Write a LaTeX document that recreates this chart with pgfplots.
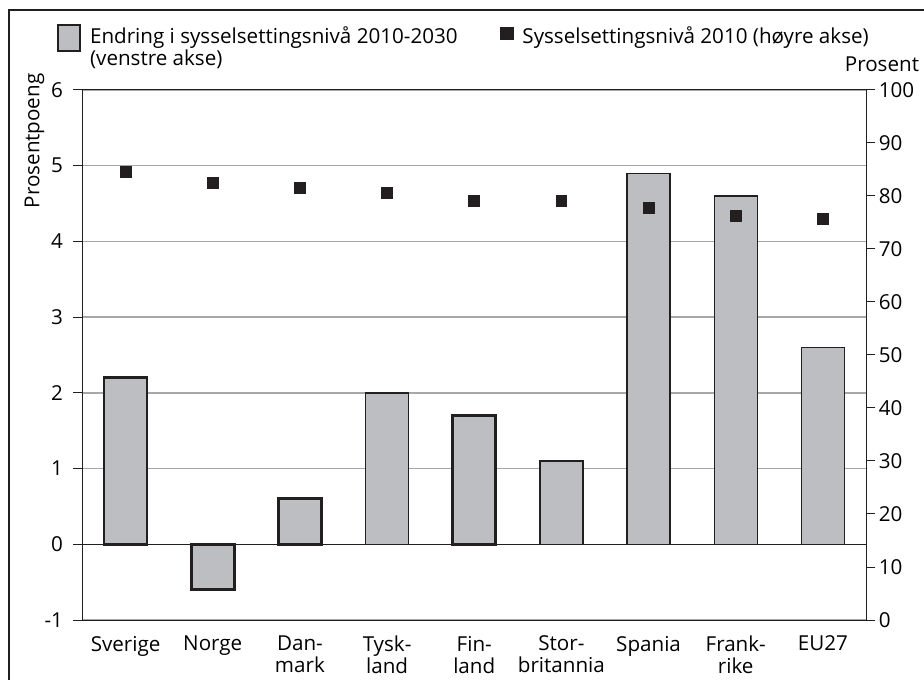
\documentclass[border=0pt]{standalone}
\usepackage{pgfplots}
\pgfplotsset{compat=1.18}
\usepackage{fontspec}
\setmainfont{Open Sans}
\definecolor{barfill}{HTML}{BDBEC2}
\definecolor{ink}{HTML}{231F20}
\definecolor{gridc}{HTML}{A7A7A9}

\begin{document}
\begin{tikzpicture}[font=\fontsize{10.3}{11}\selectfont]
\path[use as bounding box] (-41pt,-29.5pt) rectangle (421pt,310pt);
\draw[ink, line width=1.3pt] (-36.5pt,-31pt) -- (-36.5pt,305pt) -- (423pt,305pt);
\begin{axis}[
  at={(0pt,0pt)}, anchor=south west,
  scale only axis, width=392.25pt, height=265pt,
  xmin=-0.5, xmax=8.5, ymin=-1, ymax=6,
  ytick={-1,0,...,6},
  xtick={0,...,8},
  xticklabels={Sverige, Norge, Dan-\\mark, Tysk-\\land, Fin-\\land, Stor-\\britannia, Spania, Frank-\\rike, EU27},
  xticklabel style={align=center, font=\fontsize{10.3}{11}\selectfont},
  x tick style={draw=none},
  ytick pos=left,
  tick align=outside,
  major tick length=4.5pt,
  y tick style={ink, line width=0.5pt},
  yticklabel style={xshift=-1.5pt},
  axis line style={ink, line width=0.5pt},
  ymajorgrids, grid style={gridc, line width=0.75pt},
  extra y ticks={0}, extra y tick labels={},
  extra y tick style={grid style={ink, line width=0.75pt}},
  /pgf/number format/assume math mode=true,
  ylabel={Prosentpoeng},
  ylabel style={at={(axis description cs:-0.0605,0.904)}, anchor=center},
  legend columns=2,
  legend cell align=left,
  legend style={at={(axis description cs:-0.032,1.1245)}, anchor=north west,
    draw=none, fill=none, inner sep=0pt,
    nodes={align=left, inner sep=1pt},
    /tikz/every odd column/.append style={column sep=3.5pt},
    /tikz/every even column/.append style={column sep=20pt}},
]
\addplot[ybar, bar width=21.5pt, bar shift=0pt, fill=barfill, draw=ink, line width=1.4pt,
  legend image code/.code={\draw[ink, fill=barfill, line width=0.9pt] (0pt,-2pt) rectangle (11pt,11pt);}]
  coordinates {(0,2.2) (1,-0.6) (2,0.6) (4,1.7)};
\addlegendentry{Endring i sysselsettingsnivå 2010-2030\\(venstre akse)}
\addplot[ybar, bar width=21.5pt, bar shift=0pt, fill=barfill, draw=ink, line width=0.7pt, forget plot]
  coordinates {(3,2.0) (5,1.1) (6,4.9) (7,4.6) (8,2.6)};
\addlegendimage{legend image code/.code={\fill[ink] (0pt,4pt) rectangle (6.5pt,10pt);}}
\addlegendentry{Sysselsettingsnivå 2010 (høyre akse)\\\phantom{(}}
\end{axis}
\begin{axis}[
  at={(0pt,0pt)}, anchor=south west,
  scale only axis, width=392.25pt, height=265pt,
  xmin=-0.5, xmax=8.5, ymin=0, ymax=100,
  axis x line=none, axis y line*=right,
  ytick={0,10,...,100},
  tick align=outside,
  major tick length=4.5pt,
  y tick style={ink, line width=0.5pt},
  yticklabel style={inner sep=1.5pt},
  axis line style={ink, line width=0.5pt},
  /pgf/number format/assume math mode=true,
  clip=false,
]
\addplot[only marks, mark=square*, mark size=2.7pt, ink] coordinates {
  (0,84.6) (1,82.4) (2,81.6) (3,80.6) (4,79.1) (5,79.1) (6,77.8) (7,76.2) (8,75.7)};
\node[anchor=base east] at (axis description cs:1.076,1.034) {Prosent};
\end{axis}
\end{tikzpicture}
\end{document}
